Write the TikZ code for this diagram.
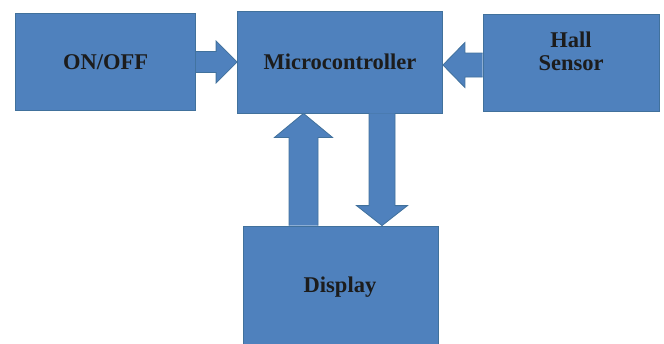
\documentclass[tikz,border=0pt]{standalone}
\usepackage{fontspec}
\setmainfont{Liberation Serif}
\usetikzlibrary{calc}
\definecolor{boxfill}{HTML}{4F81BD}
\definecolor{boxline}{HTML}{41719C}
\definecolor{txt}{HTML}{1C1C1C}
\begin{document}
\begin{tikzpicture}[x=1pt,y=-1pt,
  blk/.style={draw=boxline, fill=boxfill, line width=0.8pt, inner sep=0pt,
    font=\fontsize{22.5}{23}\selectfont\bfseries, text=txt, align=center},
  lbl/.style={inner sep=0pt, font=\fontsize{22.5}{23}\selectfont\bfseries, text=txt, align=center},
  barrow/.style={draw=boxline, fill=boxfill, line width=0.8pt, line join=miter}]
\useasboundingbox (0,0) rectangle (664,343);
\clip (0,0) rectangle (664,343);
% boxes
\node[blk, minimum width=180pt, minimum height=97pt] (on) at (105.5,62) {ON/OFF};
\node[blk, minimum width=205pt, minimum height=102pt] (mc) at (340,62) {Microcontroller};
\node[blk, minimum width=176pt, minimum height=97pt] (hall) at (571,62.5) {};
\node[lbl] (hallt) at ([yshift=11pt]hall.center) {Hall\\Sensor};
\node[blk, minimum width=195pt, minimum height=150pt] (disp) at (340.5,301) {};
\node[lbl] (dispt) at (340,287) {Display};
% left arrow: ON/OFF -> Microcontroller
\coordinate (ls) at (on.east);
\coordinate (lt) at (mc.west);
\fill[barrow] ($(ls)+(0,-10.5)$) -- ($(lt)+(-21,-10.5)$) -- ($(lt)+(-21,-21)$) -- (lt)
  -- ($(lt)+(-21,21)$) -- ($(lt)+(-21,10.5)$) -- ($(ls)+(0,10.5)$);
% right arrow: Hall -> Microcontroller
\coordinate (rs) at ([yshift=-2.5pt]hall.west);
\coordinate (rt) at (mc.east |- rs);
\fill[barrow] ($(rs)+(0,-12)$) -- ($(rt)+(22,-12)$) -- ($(rt)+(22,-22.5)$) -- (rt)
  -- ($(rt)+(22,22.5)$) -- ($(rt)+(22,12)$) -- ($(rs)+(0,12)$);
% up arrow: Display -> Microcontroller
\coordinate (us) at (disp.north -| 303.5,0);
\coordinate (ut) at (mc.south -| us);
\fill[barrow] ($(us)+(-14.5,0)$) -- ($(ut)+(-14.5,24)$) -- ($(ut)+(-29,24)$) -- (ut)
  -- ($(ut)+(29,24)$) -- ($(ut)+(14.5,24)$) -- ($(us)+(14.5,0)$);
% down arrow: Microcontroller -> Display
\coordinate (ds) at (mc.south -| 382,0);
\coordinate (dt) at (disp.north -| ds);
\fill[barrow] ($(ds)+(-13,0)$) -- ($(dt)+(-13,-20)$) -- ($(dt)+(-25.5,-20)$) -- (dt)
  -- ($(dt)+(25.5,-20)$) -- ($(dt)+(13,-20)$) -- ($(ds)+(13,0)$);
\end{tikzpicture}
\end{document}
